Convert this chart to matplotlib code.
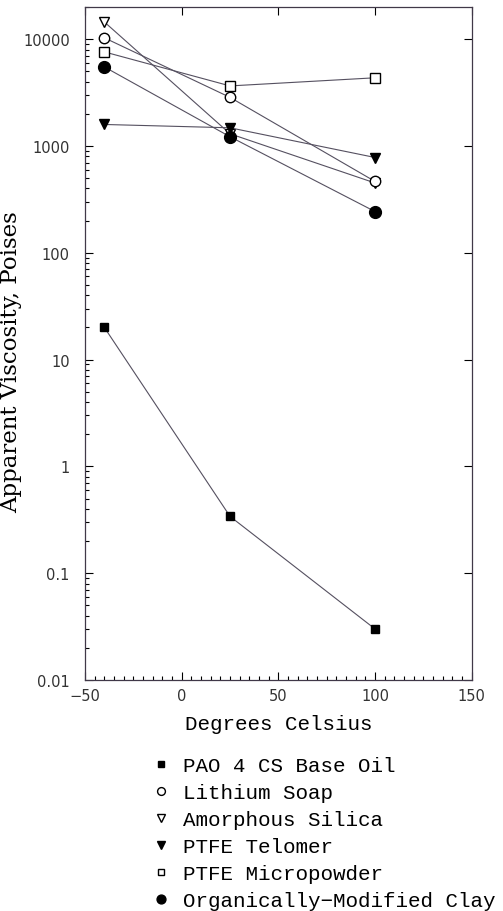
import matplotlib
matplotlib.use("Agg")
import matplotlib.pyplot as plt
from matplotlib.ticker import FixedLocator, FixedFormatter, LogLocator, MultipleLocator, NullFormatter

temps = [-40, 25, 100]

pao = [20, 0.34, 0.03]
lithium = [10300, 2850, 465]
silica = [14500, 1300, 450]
telomer = [1590, 1480, 780]
micropowder = [7600, 3650, 4350]
clay = [5500, 1220, 243]

labels = ["PAO 4 CS Base Oil", "Lithium Soap", "Amorphous Silica",
          "PTFE Telomer", "PTFE Micropowder", "Organically\u2212Modified Clay"]

yticks = [0.01, 0.1, 1, 10, 100, 1000, 10000]
ytick_labels = ["0.01", "0.1", "1", "10", "100", "1000", "10000"]
xticks = [-50, 0, 50, 100, 150]

mono = "Liberation Mono"
line_col = "#555060"

fig = plt.figure(figsize=(5.03, 9.12), dpi=100)
ax = fig.add_axes([0.169, 0.2533, 0.769, 0.7379])

# series: data, marker, face, size, zorder
series = [
    (silica, "v", "white", 7, 2, labels[2]),
    (pao, "s", "black", 6, 3, labels[0]),
    (lithium, "o", "white", 7.5, 3, labels[1]),
    (telomer, "v", "black", 7, 3, labels[3]),
    (micropowder, "s", "white", 6.5, 3, labels[4]),
    (clay, "o", "black", 8.5, 4, labels[5]),
]
handles = {}
for vals, mk, fc, ms, z, lab in series:
    h, = ax.plot(temps, vals, color=line_col, lw=0.8, marker=mk, mfc=fc, mec="black",
                 mew=1.0, ms=ms, zorder=z, label=lab)
    handles[lab] = h

ax.set_yscale("log")
ax.set_xlim(-50, 150)
ax.set_ylim(0.01, 20000)

ax.yaxis.set_major_locator(FixedLocator(yticks))
ax.yaxis.set_major_formatter(FixedFormatter(ytick_labels))
ax.yaxis.set_minor_locator(LogLocator(base=10, subs=range(2, 10)))
ax.yaxis.set_minor_formatter(NullFormatter())
ax.xaxis.set_major_locator(FixedLocator(xticks))
ax.xaxis.set_minor_locator(MultipleLocator(5))

ax.tick_params(which="both", direction="in", top=True, right=True, labelsize=10.5,
               colors="black", width=0.8)
ax.tick_params(which="major", length=6)
ax.tick_params(axis="y", which="major", pad=11)
ax.tick_params(axis="x", which="major", pad=6)
ax.tick_params(which="minor", length=3, top=False, right=False)
for lab in ax.get_xticklabels() + ax.get_yticklabels():
    lab.set_color("#333333")
for sp in ax.spines.values():
    sp.set_linewidth(0.9)
    sp.set_color("#403848")

ax.set_xlabel("Degrees Celsius", fontfamily=mono, fontsize=15, labelpad=8)
ax.set_ylabel("Apparent Viscosity, Poises", fontfamily="DejaVu Serif", fontsize=16.5)
ax.yaxis.set_label_coords(-0.163, 0.474)

leg = fig.legend([handles[l] for l in labels], labels, loc="upper left",
                 bbox_to_anchor=(0.27, 0.19), frameon=False, handlelength=0.6,
                 handletextpad=0.75, labelspacing=0.38, markerscale=0.75,
                 prop={"family": mono, "size": 15})
for h in leg.legend_handles:
    h.set_linestyle("None")

fig.savefig("out.png", dpi=100)
